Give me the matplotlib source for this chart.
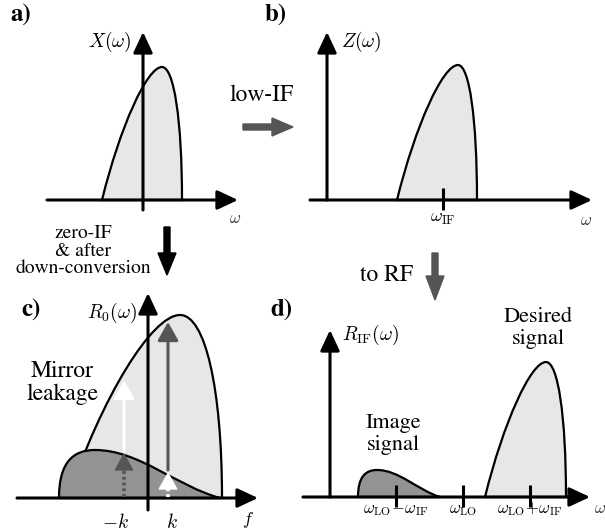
import matplotlib.pyplot as plt
from matplotlib.path import Path
from matplotlib.patches import PathPatch, FancyArrow

plt.rcParams['font.family'] = 'serif'
plt.rcParams['font.serif'] = ['STIXGeneral', 'Liberation Serif', 'DejaVu Serif']
plt.rcParams['mathtext.fontset'] = 'cm'

W, H = 605, 531
UNIT = 10  # pixels per frequency/amplitude unit

LIGHT = '#e6e7e9'
DARK = '#939393'
GRAY = '#555555'

# spectra as (left edge, peak position, right edge, peak height)
x_spec = (-4.1, 1.9, 3.9, 13.3)
z_spec = (7.0, 13.1, 15.0, 13.5)
r0_signal = (-8.0, 3.2, 7.4, 18.3)
r0_mirror = (-8.9, -5.3, 7.2, 4.8)
rif_image = (2.8, 4.7, 11.0, 2.7)
rif_desired = (15.5, 21.6, 23.6, 13.5)

# frequency ticks
z_ticks = [11.6]
z_tick_labels = [r'$\omega_{\mathrm{IF}}$']
rif_ticks = [6.6, 13.3, 20.0]
rif_tick_labels = [r'$\omega_{\mathrm{LO}}\!-\!\omega_{\mathrm{IF}}$',
                   r'$\omega_{\mathrm{LO}}$',
                   r'$\omega_{\mathrm{LO}}\!+\!\omega_{\mathrm{IF}}$']

# mirror leakage at -k and k
k_pos = [-2.4, 2.0]
k_labels = [r'$-k$', r'$k$']
k_label_x = [-3.3, 2.4]
leak_level = [4.5, 2.6]
signal_level = [11.8, 17.6]
dotted_color = [GRAY, 'white']
solid_color = ['white', GRAY]


def spectrum(left, peak, right, h):
    w, r = peak - left, right - peak
    verts = [(left, 0), (left + 0.3 * w, 0.55 * h), (peak - 0.25 * w, h), (peak, h),
             (peak + 0.6 * r, h), (right, 0.6 * h), (right, 0), (left, 0)]
    codes = [Path.MOVETO] + [Path.CURVE4] * 6 + [Path.CLOSEPOLY]
    return Path(verts, codes)


def bump(left, peak, right, h):
    a, b = peak - left, right - peak
    verts = [(left, 0), (left, 0.75 * h), (left + 0.4 * a, h), (peak, h),
             (peak + 0.35 * b, h), (right - 0.35 * b, 0.25 * h), (right, 0), (left, 0)]
    codes = [Path.MOVETO] + [Path.CURVE4] * 6 + [Path.CLOSEPOLY]
    return Path(verts, codes)


def panel(box, origin):
    px0, py0, px1, py1 = box
    ox, oy = origin
    ax = fig.add_axes([px0 / W, 1 - py1 / H, (px1 - px0) / W, (py1 - py0) / H])
    ax.set_xlim((px0 - ox) / UNIT, (px1 - ox) / UNIT)
    ax.set_ylim((oy - py1) / UNIT, (oy - py0) / UNIT)
    ax.axis('off')
    return ax


def arrow(ax, start, end, color='black', lw=2.2, hl=0.9, hw=0.42, ms=14, z=4):
    ax.annotate('', xy=end, xytext=start, annotation_clip=False, zorder=z,
                arrowprops=dict(arrowstyle=f'-|>,head_length={hl},head_width={hw}',
                                lw=lw, color=color, mutation_scale=ms,
                                shrinkA=0, shrinkB=0))


def dotted_arrow(ax, x, top, color):
    # dotted shaft with a solid head
    ax.plot([x, x], [0.1, top - 1.0], color=color, lw=2.6, ls=(0, (0.8, 0.8)),
            solid_capstyle='butt', zorder=5)
    arrow(ax, (x, top - 1.1), (x, top), color=color, lw=1.0, hl=0.8, hw=0.45, z=5)


def draw(ax, path, color):
    ax.add_patch(PathPatch(path, facecolor=color, edgecolor='black', lw=1.6, zorder=2))


def ticks(ax, pos, labels, base, size=13):
    for t, lab in zip(pos, labels):
        ax.plot([t, t], [-1.0, 1.2], color='black', lw=2.2, solid_capstyle='butt', zorder=3)
        ax.text(t, base, lab, ha='center', va='baseline', fontsize=size)


fig = plt.figure(figsize=(W / 100, H / 100), dpi=100)

# a) baseband spectrum
ax = panel((0, 0, 300, 265), (143, 200))
draw(ax, spectrum(*x_spec), LIGHT)
arrow(ax, (-9.6, 0), (9.5, 0))
arrow(ax, (0, -1.0), (0, 16.8))
ax.text(-1.2, 15.8, r'$X(\omega)$', ha='right', va='center', fontsize=14)
ax.text(9.2, -2.3, r'$\omega$', ha='center', va='baseline', fontsize=12, color='#333333')

# b) low-IF spectrum
ax = panel((300, 0, 605, 265), (327, 200))
draw(ax, spectrum(*z_spec), LIGHT)
arrow(ax, (-1.7, 0), (26.5, 0))
arrow(ax, (0, 0), (0, 16.8))
ticks(ax, z_ticks, z_tick_labels, -2.2)
ax.text(1.4, 15.8, r'$Z(\omega)$', ha='left', va='center', fontsize=14)
ax.text(25.9, -2.5, r'$\omega$', ha='center', va='baseline', fontsize=12, color='#333333')

# c) zero-IF after down-conversion
ax = panel((0, 265, 300, 531), (148, 498))
draw(ax, spectrum(*r0_signal), LIGHT)
draw(ax, bump(*r0_mirror), DARK)
arrow(ax, (-13.1, 0), (11.0, 0))
arrow(ax, (0, -1.2), (0, 20.5))
for x, lo, hi, cd, cs in zip(k_pos, leak_level, signal_level, dotted_color, solid_color):
    dotted_arrow(ax, x, lo, cd)
    arrow(ax, (x, lo + 0.2), (x, hi), color=cs, lw=2.2, hl=0.8, hw=0.45, z=5)
for x, lab in zip(k_label_x, k_labels):
    ax.text(x, -1.5, lab, ha='center', va='top', fontsize=14)
ax.text(-1.1, 18.5, r'$R_0(\omega)$', ha='right', va='center', fontsize=14)
ax.text(10.0, -1.2, r'$f$', ha='center', va='top', fontsize=13)
ax.text(-8.6, 11.5, 'Mirror\nleakage', ha='center', va='center', fontsize=17, linespacing=1.1)

# d) RF spectrum
ax = panel((300, 265, 605, 531), (330, 497))
draw(ax, bump(*rif_image), DARK)
draw(ax, spectrum(*rif_desired), LIGHT)
arrow(ax, (-2.7, 0), (26.0, 0))
arrow(ax, (0, 0), (0, 16.7))
ticks(ax, rif_ticks, rif_tick_labels, -1.65, size=12)
ax.text(1.2, 16.2, r'$R_{\mathrm{IF}}(\omega)$', ha='left', va='center', fontsize=14)
ax.text(26.4, -1.6, r'$\omega$', ha='left', va='baseline', fontsize=12, color='#333333')
ax.text(6.3, 6.3, 'Image\nsignal', ha='center', va='center', fontsize=16, linespacing=1.1)
ax.text(20.8, 16.9, 'Desired\nsignal', ha='center', va='center', fontsize=16, linespacing=1.1)

# panel letters and conversion arrows
ov = fig.add_axes([0, 0, 1, 1], zorder=-1)
ov.set_xlim(0, W)
ov.set_ylim(H, 0)
ov.axis('off')
for lab, (x, y) in zip(['a)', 'b)', 'c)', 'd)'], [(21, 15), (276, 15), (31, 310), (281, 310)]):
    ov.text(x, y, lab, ha='center', va='center', fontsize=18, fontweight='bold')
ov.text(262, 95, 'low-IF', ha='center', va='center', fontsize=17)
ov.add_patch(FancyArrow(243, 127, 50, 0, width=6, head_width=18, head_length=21,
                        length_includes_head=True, color=GRAY))
ov.text(83, 251, 'zero-IF\n& after\ndown-conversion', ha='center', va='center',
        fontsize=14, linespacing=1.0)
ov.add_patch(FancyArrow(167, 227, 0, 48, width=6, head_width=18, head_length=22,
                        length_includes_head=True, color='black'))
ov.text(387, 275, 'to RF', ha='center', va='center', fontsize=17)
ov.add_patch(FancyArrow(435, 253, 0, 47, width=6, head_width=18, head_length=24,
                        length_includes_head=True, color=GRAY))

fig.savefig('out.png', dpi=100)
